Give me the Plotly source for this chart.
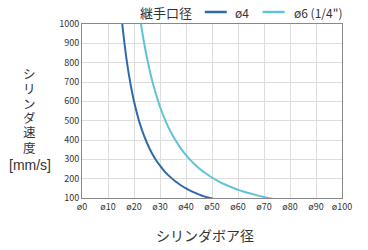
import plotly.graph_objects as go

# Cylinder bore (mm) and cylinder speed (mm/s)
bore_d4 = [15.0, 15.5, 16, 17, 18, 19, 20, 22, 24, 26, 28, 30, 32, 34, 36, 38, 40, 42, 44, 46, 48, 50, 51]
speed_d4 = [1067, 999, 938, 830, 741, 665, 600, 496, 417, 355, 306, 267, 234, 208, 185, 166, 150, 136, 124, 113, 104, 97, 93]

bore_d6 = [22.0, 22.7, 23, 24, 25, 26, 27, 28, 30, 32, 34, 36, 38, 40, 42, 44, 46, 48, 50, 52, 55, 58, 61, 64, 67, 70, 72, 74]
speed_d6 = [1064, 999, 973, 894, 824, 762, 706, 657, 572, 503, 445, 397, 357, 322, 292, 266, 243, 224, 206, 190, 170, 153, 138, 126, 115, 105, 99, 94]

x_tickvals = [0, 10, 20, 30, 40, 50, 60, 70, 80, 90, 100]
x_ticktext = ["ø0", "ø10", "ø20", "ø30", "ø40", "ø50", "ø60", "ø70", "ø80", "ø90", "ø100"]
y_tickvals = [100, 200, 300, 400, 500, 600, 700, 800, 900, 1000]

series_names = ["ø4", "ø6 (1/4\")"]
series_colors = ["#2f6aab", "#62c2d8"]
legend_title = "継手口径"
x_title = "シリンダボア径"
y_title_lines = ["シ", "リ", "ン", "ダ", "速", "度", "[mm/s]"]

FONT = "Noto Sans CJK JP"
YFONT = "Liberation Sans, Noto Sans CJK JP"
TXT = "#333333"

# plot area in pixels
L, R, T, B = 82, 342.5, 24, 198
def px(x):
    return (x - L) / (R - L)
def py(y):
    return (B - y) / (B - T)

fig = go.Figure()
fig.add_trace(go.Scatter(x=bore_d4, y=speed_d4, mode="lines", name=series_names[0],
                         line=dict(color=series_colors[0], width=2, shape="spline")))
fig.add_trace(go.Scatter(x=bore_d6, y=speed_d6, mode="lines", name=series_names[1],
                         line=dict(color=series_colors[1], width=2, shape="spline")))

fig.update_layout(
    width=368, height=250,
    margin=dict(l=L, r=368 - R, t=T, b=250 - B, autoexpand=False),
    paper_bgcolor="white", plot_bgcolor="white",
    font=dict(family=FONT, color=TXT),
    showlegend=False,
    xaxis=dict(range=[0, 100], tickvals=x_tickvals, ticktext=x_ticktext,
               tickfont=dict(size=9, color=TXT),
               showgrid=True, gridcolor="#dddddd", gridwidth=1,
               showline=True, linecolor="#888888", linewidth=1, mirror=True,
               zeroline=False, ticks="", ticklen=0),
    yaxis=dict(range=[100, 1000], tickvals=y_tickvals,
               tickfont=dict(size=9, color=TXT),
               showgrid=True, gridcolor="#dddddd", gridwidth=1,
               showline=True, linecolor="#888888", linewidth=1, mirror=True,
               zeroline=False, ticks="", ticklen=0),
)

# legend drawn manually at the top
fig.add_annotation(text=legend_title, xref="paper", yref="paper", x=px(166), y=py(12),
                   xanchor="center", yanchor="middle", showarrow=False,
                   font=dict(size=13, color=TXT, family=FONT))
for name, col, (x0, x1, tx) in zip(series_names, series_colors, [(205, 227, 233), (263, 285, 292)]):
    fig.add_shape(type="line", xref="paper", yref="paper", x0=px(x0), x1=px(x1), y0=py(12), y1=py(12),
                  line=dict(color=col, width=2.5))
    fig.add_annotation(text=name, xref="paper", yref="paper", x=px(tx), y=py(12),
                       xanchor="left", yanchor="middle", showarrow=False,
                       font=dict(size=12, color=TXT, family=FONT))

# axis titles
fig.add_annotation(text=x_title, xref="paper", yref="paper", x=px(205), y=py(235),
                   xanchor="center", yanchor="middle", showarrow=False,
                   font=dict(size=14, color=TXT, family=FONT))

# vertical stacked y-axis title, one annotation per line
y_centers_px = [75, 90, 105, 119, 133, 148, 165]
y_sizes = [12.5, 12.5, 12.5, 12.5, 12.5, 12.5, 14]
for txt, ypx, sz in zip(y_title_lines, y_centers_px, y_sizes):
    fig.add_annotation(text=txt, xref="paper", yref="paper", x=px(29.5), y=py(ypx),
                       xanchor="center", yanchor="middle", showarrow=False, borderpad=0,
                       font=dict(size=sz, color=TXT, family=YFONT))

fig.write_html("out.html")
